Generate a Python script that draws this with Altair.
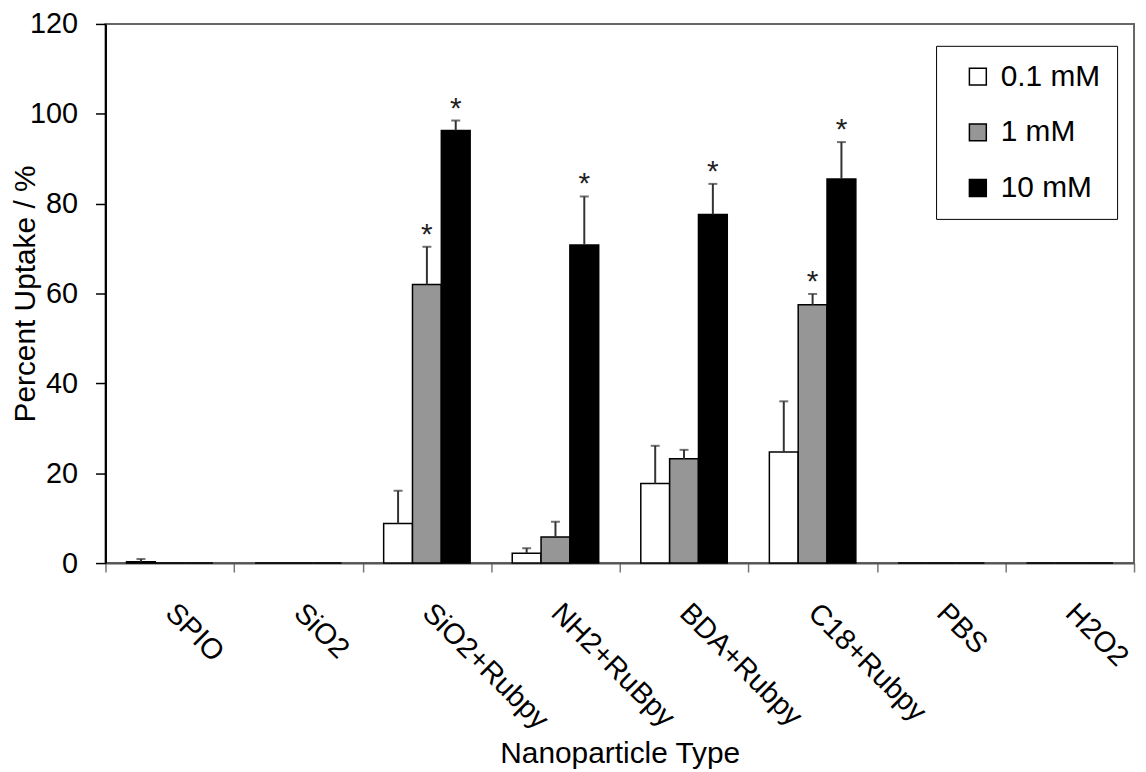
import altair as alt
import pandas as pd

categories = ["SPIO", "SiO2", "SiO2+Rubpy", "NH2+RuBpy", "BDA+Rubpy", "C18+Rubpy", "PBS", "H2O2"]
concentrations = ["0.1 mM", "1 mM", "10 mM"]

val_01 = [0.3, 0, 8.8, 2.2, 17.7, 24.7, 0, 0]
err_01 = [0.6, 0, 7.3, 1.1, 8.4, 11.3, 0, 0]
val_1 = [0, 0, 62.0, 5.8, 23.2, 57.5, 0, 0]
err_1 = [0, 0, 8.4, 3.4, 2.0, 2.4, 0, 0]
val_10 = [0, 0, 96.3, 70.8, 77.6, 85.5, 0, 0]
err_10 = [0, 0, 2.2, 10.8, 6.8, 8.2, 0, 0]
star_1 = [False, False, True, False, False, True, False, False]
star_10 = [False, False, True, True, True, True, False, False]
star_01 = [False] * 8

rows = []
for conc, vals, errs, stars in [
    ("0.1 mM", val_01, err_01, star_01),
    ("1 mM", val_1, err_1, star_1),
    ("10 mM", val_10, err_10, star_10),
]:
    for c, v, e, s in zip(categories, vals, errs, stars):
        rows.append({"cat": c, "conc": conc, "value": v, "upper": v + e,
                     "err": e, "star": "*" if s else ""})
df = pd.DataFrame(rows)

FONT = "Liberation Sans"
W, H = 1034, 542

x_enc = alt.X("cat:N", sort=categories,
              scale=alt.Scale(paddingInner=0, paddingOuter=0),
              axis=alt.Axis(title="Nanoparticle Type", labelAngle=45, labelAlign="left",
                            labelBaseline="middle", labelPadding=36, tickSize=9,
                            tickColor="#777", tickWidth=1.5, domainColor="#555",
                            domainWidth=2, tickBand="extent", labelFontSize=29,
                            labelColor="black", titleFontSize=30, titleFontWeight="normal",
                            titleColor="black", titleY=200, titleBaseline="alphabetic",
                            labelFont=FONT, titleFont=FONT))
xo_enc = alt.XOffset("conc:N", sort=concentrations,
                     scale=alt.Scale(paddingInner=0, paddingOuter=0.73))
y_scale = alt.Scale(domain=[0, 120], nice=False)

base = alt.Chart(df).encode(x=x_enc, xOffset=xo_enc)

bars = base.mark_bar(stroke="black", strokeWidth=1.5).encode(
    y=alt.Y("value:Q", scale=y_scale,
            axis=alt.Axis(title="Percent Uptake / %", values=[0, 20, 40, 60, 80, 100, 120],
                          grid=False, tickSize=10, tickColor="black", tickWidth=1.5,
                          domainColor="black", domainWidth=2, labelPadding=18,
                          labelFontSize=29, labelColor="black", titleFontSize=30,
                          titleFontWeight="normal", titleColor="black", titleAngle=270,
                          titleX=-71, titleY=271, titleBaseline="alphabetic",
                          titleAlign="center", labelFont=FONT, titleFont=FONT)),
    color=alt.Color("conc:N", sort=concentrations,
                    scale=alt.Scale(domain=concentrations, range=["white", "#969696", "black"]),
                    legend=alt.Legend(title=None, orient="none", legendX=835, legendY=22,
                                      symbolType="square", symbolSize=289,
                                      symbolStrokeColor="black", symbolStrokeWidth=1.5,
                                      symbolOffset=11,
                                      labelFontSize=30, labelFont=FONT, labelColor="black",
                                      labelOffset=8, rowPadding=26, padding=16,
                                      strokeColor="black", fillColor="white")),
)

err_filter = alt.datum.err > 0

rules = base.transform_filter(err_filter).mark_rule(color="#333", strokeWidth=2).encode(
    y=alt.Y("value:Q", scale=y_scale), y2="upper:Q")
caps = base.transform_filter(err_filter).mark_tick(color="#333", thickness=2, size=9).encode(
    y=alt.Y("upper:Q", scale=y_scale))
stars = base.transform_filter(alt.datum.star != "").mark_text(
    fontSize=30, font=FONT, baseline="alphabetic", dy=-3, color="#222").encode(
    y=alt.Y("upper:Q", scale=y_scale), text="star:N")

chart = alt.layer(bars, rules, caps, stars).properties(
    width=W, height=H,
    padding={"left": 98, "top": 14, "right": 4, "bottom": 206},
    autosize=alt.AutoSizeParams(type="none"),
    background="white",
).configure_view(stroke="#666", strokeWidth=2)

chart.save("out.html", embed_options={"renderer": "svg", "actions": False})
